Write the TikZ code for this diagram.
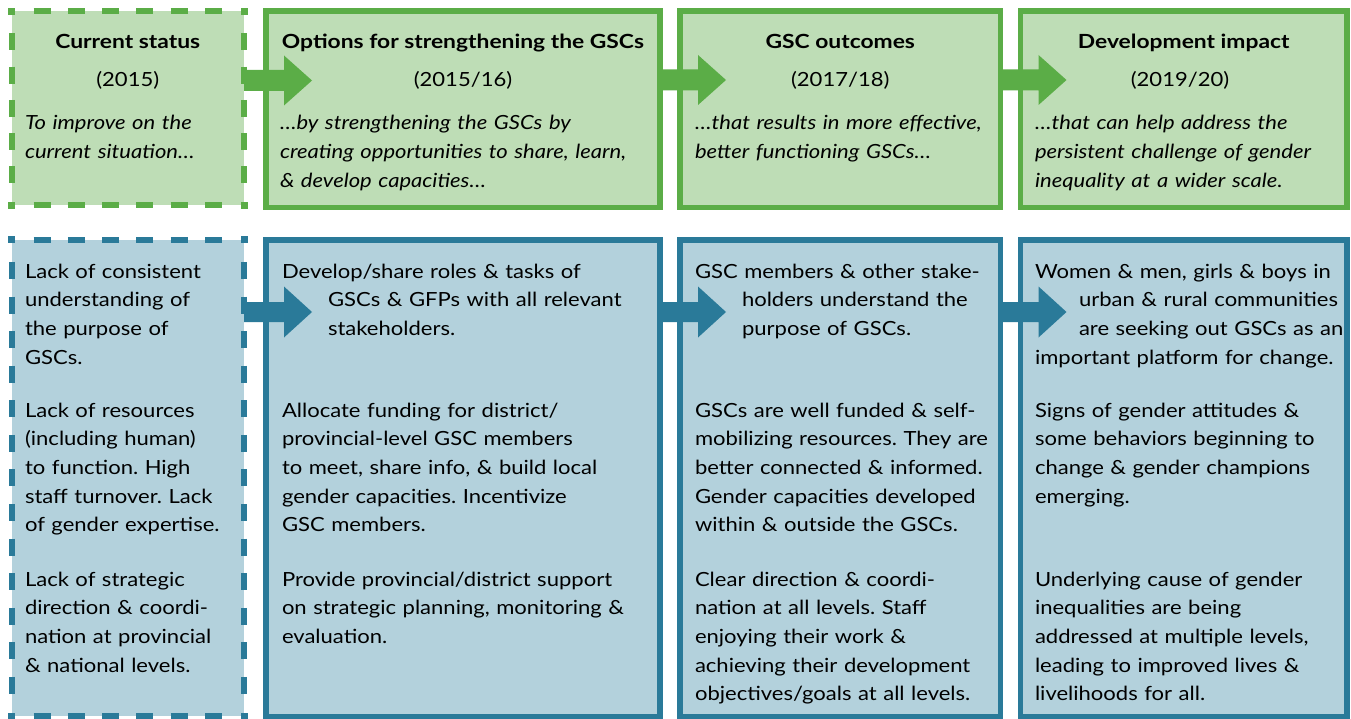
\documentclass[tikz,border=0pt]{standalone}
\usepackage{fontspec}
\setmainfont{Lato}[FakeStretch=1.13]
\newfontfamily\titlefont{Lato}[FakeStretch=1.17]
\frenchspacing
\usetikzlibrary{calc}
\definecolor{gline}{HTML}{5BAD47}
\definecolor{gfill}{HTML}{BEDDB6}
\definecolor{bline}{HTML}{2A7A99}
\definecolor{bfill}{HTML}{B3D1DC}
\tikzset{
  box/.style={rectangle, line width=5.5pt, outer sep=0pt, inner sep=0pt, anchor=north west},
  gbox/.style={box, draw=gline, fill=gfill},
  bbox/.style={box, draw=bline, fill=bfill},
  gdbox/.style={box, draw=none, fill=gfill},
  bdbox/.style={box, draw=none, fill=bfill},
  txt/.style={inner sep=0pt, outer sep=0pt, anchor=base west, text width=520pt, align=left,
    font=\fontsize{19.5}{28.7}\selectfont\frenchspacing},
  itxt/.style={txt, font=\fontsize{19.5}{29}\selectfont\itshape\frenchspacing},
  title/.style={inner sep=0pt, anchor=base, font=\titlefont\fontsize{19.5}{24}\selectfont\bfseries},
  year/.style={inner sep=0pt, anchor=base, font=\fontsize{19.5}{24}\selectfont},
  garrow/.style={fill=gline},
  barrow/.style={fill=bline},
}
% dashed frame: #1 node, #2 colour, #3 horizontal gap, #4 vertical gap
\newcommand\dashframe[4]{%
  \draw[#2, line width=6pt, dash pattern=on 17pt off #3pt] ([xshift=22pt]#1.north west) -- ([xshift=-22pt]#1.north east);
  \draw[#2, line width=6pt, dash pattern=on 17pt off #3pt] ([xshift=22pt]#1.south west) -- ([xshift=-22pt]#1.south east);
  \draw[#2, line width=6pt, dash pattern=on 17pt off #4pt] ([yshift=-22pt]#1.north west) -- ([yshift=22pt]#1.south west);
  \draw[#2, line width=6pt, dash pattern=on 17pt off #4pt] ([yshift=-22pt]#1.north east) -- ([yshift=22pt]#1.south east);
  \foreach \c in {north west, north east, south west, south east}
    \fill[#2] (#1.\c) +(-3.5,-3.5) rectangle +(3.5,3.5);
}
% block arrow: #1 from node, #2 to node, #3 drop from top, #4 half shaft, #5 half head, #6 style
\newcommand\blockarrow[6]{%
  \path ([yshift=-#3pt]#1.north east) coordinate (s) ([xshift=46pt]#2.west |- s) coordinate (tip);
  \fill[#6] ($(s)+(0,-#4)$) -- ($(tip)+(-28,-#4)$) -- ($(tip)+(-28,-#5)$) -- (tip)
     -- ($(tip)+(-28,#5)$) -- ($(tip)+(-28,#4)$) -- ($(s)+(0,#4)$) -- cycle;
}
\begin{document}
\begin{tikzpicture}[x=1pt,y=-1pt]
\useasboundingbox (0,0) rectangle (1351,719);
% top row
\node[gdbox, minimum width=232.5pt, minimum height=194pt] (t1) at (11.5,11.5) {};
\dashframe{t1}{gline}{17.3}{16.25}
\node[gbox, minimum width=394pt, minimum height=196.5pt] (t2) at (266,11) {};
\node[gbox, minimum width=320.5pt, minimum height=196.5pt] (t3) at (680,11) {};
\node[gbox, minimum width=326.5pt, minimum height=196.5pt] (t4) at (1020.5,11) {};
% bottom row
\node[bdbox, minimum width=232.5pt, minimum height=476pt] (b1) at (11.5,240) {};
\dashframe{b1}{bline}{17.3}{17.58}
\node[bbox, minimum width=394pt, minimum height=476.5pt] (b2) at (266,240) {};
\node[bbox, minimum width=320.5pt, minimum height=476.5pt] (b3) at (680,240) {};
\node[bbox, minimum width=326.5pt, minimum height=476.5pt] (b4) at (1020.5,240) {};
% arrows
\blockarrow{t1}{t2}{69}{10.5}{25}{garrow}
\blockarrow{t2}{t3}{69}{10.5}{25}{garrow}
\blockarrow{t3}{t4}{69}{10.5}{25}{garrow}
\blockarrow{b1}{b2}{72}{10}{25.5}{barrow}
\blockarrow{b2}{b3}{72}{10}{25.5}{barrow}
\blockarrow{b3}{b4}{72}{10}{25.5}{barrow}
% headers
\node[title] (h1) at (127.75,49) {Current status};
\node[year] (y1) at (127.75,87) {(2015)};
\node[title] (h2) at (463,49) {Options for strengthening the GSCs};
\node[year] (y2) at (463,87) {(2015/16)};
\node[title] (h3) at (840.25,49) {GSC outcomes};
\node[year] (y3) at (840.25,87) {(2017/18)};
\node[title] (h4) at (1183.75,49) {Development impact};
\node[year] (y4) at (1180,87) {(2019/20)};
\node[itxt] (i1) at (25,130) {To improve on the\\current situation…};
\node[itxt] (i2) at (280,130) {…by strengthening the GSCs by\\creating opportunities to share, learn,\\\& develop capacities…};
\node[itxt] (i3) at (695,130) {…that results in more effective,\\better functioning GSCs…};
\node[itxt] (i4) at (1035,130) {…that can help address the\\persistent challenge of gender\\inequality at a wider scale.};
% bottom texts
\node[txt] (p11) at (25,278) {Lack of consistent\\understanding of\\the purpose of\\GSCs.};
\node[txt] (p12) at (25,417) {Lack of resources\\(including human)\\to function. High\\staff turnover. Lack\\of gender expertise.};
\node[txt] (p13) at (25,586) {Lack of strategic\\direction \& coordi-\\nation at provincial\\\& national levels.};
\node[txt] (p21) at (282,278) {Develop/share roles \& tasks of\\\hspace*{46pt}GSCs \& GFPs with all relevant\\\hspace*{46pt}stakeholders.};
\node[txt] (p22) at (282,417) {Allocate funding for district/\\provincial-level GSC members\\to meet, share info, \& build local\\gender capacities. Incentivize\\GSC members.};
\node[txt] (p23) at (282,586) {Provide provincial/district support\\on strategic planning, monitoring \&\\evaluation.};
\node[txt] (p31) at (695,278) {GSC members \& other stake-\\\hspace*{47pt}holders understand the\\\hspace*{47pt}purpose of GSCs.};
\node[txt] (p32) at (695,417) {GSCs are well funded \& self-\\mobilizing resources. They are\\better connected \& informed.\\Gender capacities developed\\within \& outside the GSCs.};
\node[txt] (p33) at (695,586) {Clear direction \& coordi-\\nation at all levels. Staff\\enjoying their work \&\\achieving their development\\objectives/goals at all levels.};
\node[txt] (p41) at (1035,278) {Women \& men, girls \& boys in\\\hspace*{44pt}urban \& rural communities\\\hspace*{44pt}are seeking out GSCs as an\\important platform for change.};
\node[txt] (p42) at (1035,417) {Signs of gender attitudes \&\\some behaviors beginning to\\change \& gender champions\\emerging.};
\node[txt] (p43) at (1035,586) {Underlying cause of gender\\inequalities are being\\addressed at multiple levels,\\leading to improved lives \&\\livelihoods for all.};
\end{tikzpicture}
\end{document}
